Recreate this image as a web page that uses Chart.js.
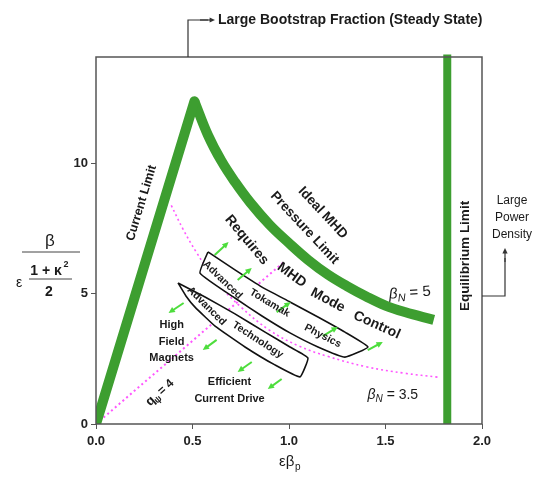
<!DOCTYPE html>
<html lang="en">
<head>
<meta charset="UTF-8">
<title>Tokamak operating space</title>
<script src="https://cdn.jsdelivr.net/npm/chart.js"></script>
<style>
  html, body { margin: 0; padding: 0; background: #fff; }
</style>
</head>
<body>
<canvas id="myChart" width="542" height="489"></canvas>
<script>
// tick labels
const xTicks = [0, 0.5, 1.0, 1.5, 2.0];
const yTicks = [0, 5, 10];

// limit curves (x = eps*beta_p, y = beta / (eps (1+k^2)/2))
const currentLimitX = [0, 0.51];
const currentLimitY = [0, 12.4];
const idealMhdX = [0.51, 0.58, 0.65, 0.72, 0.80, 0.90, 1.0, 1.1, 1.2, 1.3, 1.4, 1.5, 1.6, 1.75];
const idealMhdY = [12.4, 11.1, 10.1, 9.3, 8.5, 7.65, 6.95, 6.3, 5.75, 5.3, 4.9, 4.55, 4.3, 4.0];
const equilibriumX = [1.82, 1.82];
const equilibriumY = [0, 14.2];
const q4X = [0, 0.97];
const q4Y = [0, 6.2];
const betaN35X = [0.39, 0.45, 0.52, 0.62, 0.75, 0.9, 1.05, 1.2, 1.4, 1.6, 1.77];
const betaN35Y = [8.4, 7.5, 6.6, 5.5, 4.5, 3.6, 3.0, 2.6, 2.2, 1.95, 1.8];

// the two curved regions (outline, closed)
const tokamakBandX = [0.580, 0.720, 0.860, 1.005, 1.150, 1.290, 1.409, 1.290, 1.150, 1.005, 0.860, 0.720, 0.539, 0.580];
const tokamakBandY = [6.61, 5.92, 5.26, 4.69, 4.11, 3.53, 2.96, 2.57, 2.96, 3.50, 4.15, 4.84, 5.80, 6.61];
const technologyBandX = [0.425, 0.565, 0.720, 0.876, 1.005, 1.098, 1.057, 0.927, 0.772, 0.617, 0.513, 0.466, 0.425];
const technologyBandY = [5.42, 4.88, 4.23, 3.53, 2.96, 2.54, 1.81, 2.27, 2.96, 3.76, 4.49, 4.92, 5.42];

const FONT = '"Liberation Sans", Arial, sans-serif';
const GREEN = '#3d9e30';
const MAGENTA = '#ff55ff';

function pts(xs, ys) {
    return xs.map((x, i) => ({ x: x, y: ys[i] }));
}

// text inside the plot, placed in data units
const plotLabels = [
    { t: 'Current Limit', x: 0.236, y: 8.49, a: -73, s: 12.5 },
    { t: 'Ideal MHD', x: 1.175, y: 8.11, a: 47, s: 13.5 },
    { t: 'Pressure Limit', x: 1.081, y: 7.53, a: 47, s: 13.5 },
    { t: 'Requires', x: 0.781, y: 7.07, a: 50, s: 14 },
    { t: 'MHD', x: 1.014, y: 5.72, a: 36, s: 14 },
    { t: 'Mode', x: 1.201, y: 4.76, a: 28, s: 14 },
    { t: 'Control', x: 1.455, y: 3.80, a: 24, s: 14 },
    { t: 'Advanced', x: 0.656, y: 5.53, a: 44, s: 10.5 },
    { t: 'Tokamak', x: 0.900, y: 4.65, a: 31, s: 10.5 },
    { t: 'Physics', x: 1.175, y: 3.38, a: 27, s: 10.5 },
    { t: 'Advanced', x: 0.573, y: 4.53, a: 45, s: 10.5 },
    { t: 'Technology', x: 0.838, y: 3.23, a: 33, s: 10.5 },
    { t: 'High', x: 0.392, y: 3.80, a: 0, s: 11 },
    { t: 'Field', x: 0.392, y: 3.15, a: 0, s: 11 },
    { t: 'Magnets', x: 0.392, y: 2.54, a: 0, s: 11 },
    { t: 'Efficient', x: 0.692, y: 1.61, a: 0, s: 11 },
    { t: 'Current Drive', x: 0.692, y: 0.96, a: 0, s: 11 }
];

// small green arrows [tailX, tailY, headX, headY]
const arrows = [
    [0.615, 6.49, 0.687, 6.99],
    [0.734, 5.53, 0.807, 5.99],
    [0.936, 4.30, 1.009, 4.69],
    [1.175, 3.38, 1.253, 3.73],
    [1.408, 2.84, 1.486, 3.15],
    [0.454, 4.65, 0.376, 4.26],
    [0.625, 3.23, 0.553, 2.84],
    [0.807, 2.38, 0.734, 2.00],
    [0.962, 1.73, 0.890, 1.34]
];

function text(ctx, s, x, y, size, o) {
    o = o || {};
    ctx.save();
    ctx.translate(x, y);
    if (o.angle) ctx.rotate(o.angle * Math.PI / 180);
    ctx.font = (o.italic ? 'italic ' : '') + (o.weight || 'bold') + ' ' + size + 'px ' + FONT;
    ctx.fillStyle = o.color || '#1a1a1a';
    ctx.textAlign = o.align || 'center';
    ctx.textBaseline = 'middle';
    ctx.fillText(s, 0, 0);
    ctx.restore();
}

// beta_N = value, with subscript
function betaN(ctx, x, y, value, size, angle) {
    const runs = [
        { t: 'β', f: 'italic ' + size + 'px ' + FONT, dy: 0 },
        { t: 'N', f: 'italic ' + Math.round(size * 0.7) + 'px ' + FONT, dy: size * 0.3 },
        { t: ' = ' + value, f: size + 'px ' + FONT, dy: 0 }
    ];
    ctx.save();
    ctx.translate(x, y);
    if (angle) ctx.rotate(angle * Math.PI / 180);
    ctx.textBaseline = 'middle';
    ctx.fillStyle = '#1a1a1a';
    let w = 0;
    runs.forEach(r => { ctx.font = r.f; w += ctx.measureText(r.t).width; });
    let cx = -w / 2;
    runs.forEach(r => {
        ctx.font = r.f;
        ctx.fillText(r.t, cx, r.dy);
        cx += ctx.measureText(r.t).width;
    });
    ctx.restore();
}

function arrow(ctx, x1, y1, x2, y2, color, width, head) {
    const ang = Math.atan2(y2 - y1, x2 - x1);
    ctx.save();
    ctx.strokeStyle = color;
    ctx.fillStyle = color;
    ctx.lineWidth = width;
    ctx.beginPath();
    ctx.moveTo(x1, y1);
    ctx.lineTo(x2 - Math.cos(ang) * head * 0.6, y2 - Math.sin(ang) * head * 0.6);
    ctx.stroke();
    ctx.beginPath();
    ctx.moveTo(x2, y2);
    ctx.lineTo(x2 - head * Math.cos(ang - 0.45), y2 - head * Math.sin(ang - 0.45));
    ctx.lineTo(x2 - head * Math.cos(ang + 0.45), y2 - head * Math.sin(ang + 0.45));
    ctx.closePath();
    ctx.fill();
    ctx.restore();
}

const overlay = {
    id: 'overlay',
    afterDraw(chart) {
        const ctx = chart.ctx;
        const xs = chart.scales.x, ys = chart.scales.y;
        const a = chart.chartArea;
        const px = v => xs.getPixelForValue(v);
        const py = v => ys.getPixelForValue(v);

        // frame
        ctx.save();
        ctx.strokeStyle = '#555';
        ctx.lineWidth = 1.5;
        ctx.strokeRect(a.left, a.top, a.right - a.left, a.bottom - a.top);
        ctx.restore();

        // green arrows
        arrows.forEach(r => arrow(ctx, px(r[0]), py(r[1]), px(r[2]), py(r[3]), '#4ddd3c', 2, 7));

        // labels in the plot
        plotLabels.forEach(l => text(ctx, l.t, px(l.x), py(l.y), l.s, { angle: l.a }));
        betaN(ctx, px(1.626), py(5.03), '5', 15, -4);
        betaN(ctx, px(1.538), py(1.11), '3.5', 14, 0);

        // q = 4 label along the dotted line
        ctx.save();
        ctx.translate(px(0.329), py(1.19));
        ctx.rotate(-42 * Math.PI / 180);
        ctx.fillStyle = '#1a1a1a';
        ctx.textBaseline = 'middle';
        ctx.font = 'bold 13px ' + FONT;
        ctx.fillText('q', -16, 0);
        ctx.font = 'bold 9px ' + FONT;
        ctx.fillText('ψ', -9, 4);
        ctx.font = 'bold 12px ' + FONT;
        ctx.fillText('= 4', 0, 0);
        ctx.restore();

        // equilibrium limit label
        text(ctx, 'Equilibrium Limit', 465, 256, 13.5, { angle: -90 });

        // top annotation
        ctx.save();
        ctx.strokeStyle = '#333';
        ctx.lineWidth = 1.2;
        ctx.beginPath();
        ctx.moveTo(188, a.top);
        ctx.lineTo(188, 20);
        ctx.lineTo(208, 20);
        ctx.stroke();
        ctx.restore();
        arrow(ctx, 200, 20, 215, 20, '#333', 1.2, 6);
        text(ctx, 'Large Bootstrap Fraction (Steady State)', 218, 20, 14, { align: 'left' });

        // right annotation
        ctx.save();
        ctx.strokeStyle = '#333';
        ctx.lineWidth = 1.2;
        ctx.beginPath();
        ctx.moveTo(a.right, 296);
        ctx.lineTo(505, 296);
        ctx.lineTo(505, 258);
        ctx.stroke();
        ctx.restore();
        arrow(ctx, 505, 262, 505, 248, '#333', 1.2, 6);
        text(ctx, 'Large', 512, 201, 12, { weight: 'normal' });
        text(ctx, 'Power', 512, 218, 12, { weight: 'normal' });
        text(ctx, 'Density', 512, 235, 12, { weight: 'normal' });

        // y axis title as a fraction
        ctx.save();
        ctx.strokeStyle = '#444';
        ctx.lineWidth = 1;
        ctx.beginPath();
        ctx.moveTo(22, 252); ctx.lineTo(80, 252);
        ctx.moveTo(29, 279); ctx.lineTo(72, 279);
        ctx.stroke();
        ctx.restore();
        text(ctx, 'β', 50, 241, 17, { weight: 'normal' });
        text(ctx, 'ε', 19, 283, 14, { weight: 'normal' });
        text(ctx, '1 + κ', 46, 271, 14);
        text(ctx, '2', 66, 265, 9);
        text(ctx, '2', 49, 292, 14);

        // x axis title
        ctx.save();
        ctx.fillStyle = '#1a1a1a';
        ctx.textBaseline = 'middle';
        ctx.font = '15px ' + FONT;
        ctx.fillText('εβ', 279, 462);
        ctx.font = '10px ' + FONT;
        ctx.fillText('p', 295, 467);
        ctx.restore();
    }
};

const bandStyle = {
    showLine: true, pointRadius: 0, borderColor: '#111', borderWidth: 1.6,
    backgroundColor: '#fff', fill: 'shape', tension: 0.12
};

const datasets = [
    Object.assign({ label: 'Advanced Tokamak Physics', data: pts(tokamakBandX, tokamakBandY) }, bandStyle),
    Object.assign({ label: 'Advanced Technology', data: pts(technologyBandX, technologyBandY) }, bandStyle),
    {
        label: 'Current Limit', data: pts(currentLimitX, currentLimitY), showLine: true,
        pointRadius: 0, borderColor: GREEN, borderWidth: 10, borderCapStyle: 'round'
    },
    {
        label: 'Ideal MHD Pressure Limit', data: pts(idealMhdX, idealMhdY), showLine: true,
        pointRadius: 0, borderColor: GREEN, borderWidth: 10, tension: 0.4
    },
    {
        label: 'Equilibrium Limit', data: pts(equilibriumX, equilibriumY), showLine: true,
        pointRadius: 0, borderColor: GREEN, borderWidth: 8, clip: false
    },
    {
        label: 'q = 4', data: pts(q4X, q4Y), showLine: true, pointRadius: 0,
        borderColor: MAGENTA, borderWidth: 2, borderDash: [2, 3]
    },
    {
        label: 'betaN = 3.5', data: pts(betaN35X, betaN35Y), showLine: true, pointRadius: 0,
        borderColor: MAGENTA, borderWidth: 1.6, borderDash: [2, 3], tension: 0.4
    }
];

const tickFont = { family: FONT, size: 13, weight: 'bold' };

new Chart(document.getElementById('myChart'), {
    type: 'scatter',
    data: { datasets: datasets },
    options: {
        responsive: false,
        animation: false,
        layout: { padding: { top: 57, right: 60, left: 0, bottom: 0 } },
        plugins: { legend: { display: false }, tooltip: { enabled: false } },
        scales: {
            x: {
                type: 'linear', min: 0, max: 2,
                afterFit(s) { s.height = 65; },
                afterBuildTicks(s) { s.ticks = xTicks.map(v => ({ value: v })); },
                ticks: { callback: v => v.toFixed(1), font: tickFont, color: '#222', padding: 5, maxRotation: 0 },
                grid: { drawOnChartArea: false, tickLength: 5, color: '#555' },
                border: { display: false }
            },
            y: {
                type: 'linear', min: 0, max: 14.1,
                afterFit(s) { s.width = 96; },
                afterBuildTicks(s) { s.ticks = yTicks.map(v => ({ value: v })); },
                ticks: { callback: v => String(v), font: tickFont, color: '#222', padding: 3 },
                grid: { drawOnChartArea: false, tickLength: 5, color: '#555' },
                border: { display: false }
            }
        }
    },
    plugins: [overlay]
});
</script>
</body>
</html>
